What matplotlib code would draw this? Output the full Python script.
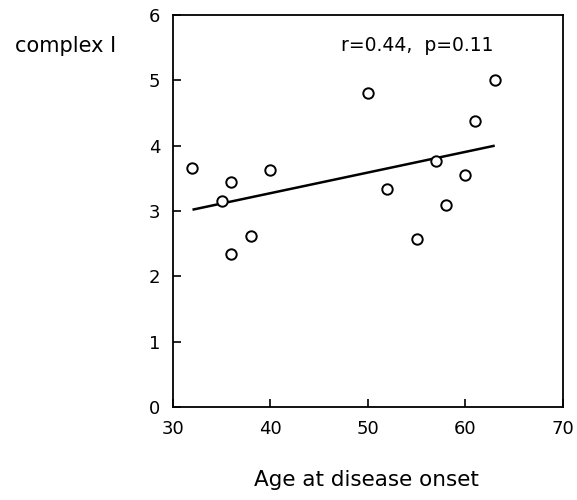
import numpy as np
import matplotlib.pyplot as plt

# Data
age = [32, 35, 36, 36, 38, 40, 50, 52, 55, 57, 58, 60, 61, 63]
complex1 = [3.66, 3.16, 3.45, 2.34, 2.61, 3.63, 4.80, 3.34, 2.57, 3.76, 3.09, 3.55, 4.37, 5.01]

# Regression line end points
fit_x = [32, 63]
fit_y = [3.02, 4.00]

xticks = [30, 40, 50, 60, 70]
yticks = [0, 1, 2, 3, 4, 5, 6]

fig = plt.figure(figsize=(5.77, 5.0), dpi=100)
ax = fig.add_axes([0.2998, 0.186, 0.6759, 0.784])

ax.plot(fit_x, fit_y, color="black", lw=1.8, solid_capstyle="butt")
ax.plot(age, complex1, "o", ms=7.5, mfc="white", mec="black", mew=1.4)

ax.set_xlim(30, 70)
ax.set_ylim(0, 6)
ax.set_xticks(xticks)
ax.set_yticks(yticks)
ax.tick_params(direction="in", length=6, width=1.2, labelsize=13, pad=9)
for s in ax.spines.values():
    s.set_linewidth(1.3)

ax.text(55.05, 5.54, "r=0.44,  p=0.11", ha="center", va="center", fontsize=13.5)
fig.text(66 / 577, 1 - 46 / 500, "complex I", ha="center", va="center", fontsize=15)
fig.text(366 / 577, 1 - 480 / 500, "Age at disease onset", ha="center", va="center", fontsize=15.5)

plt.savefig("out.png", dpi=100)
